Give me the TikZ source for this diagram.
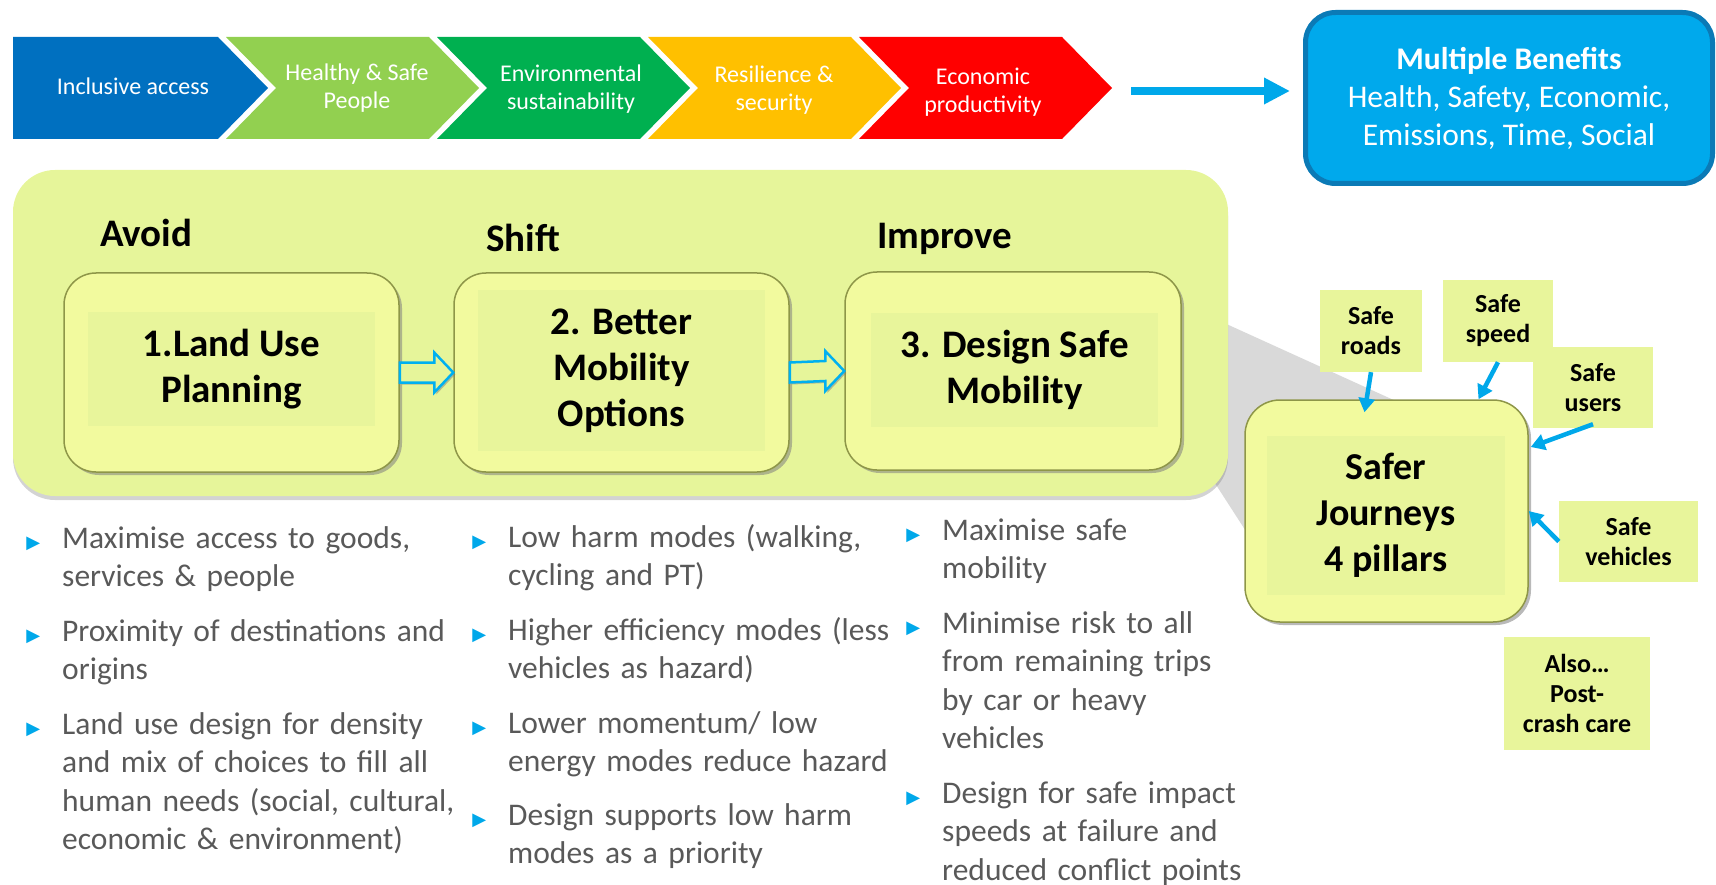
\documentclass[tikz,border=0pt]{standalone}
\usepackage{fontspec}
\setmainfont{Carlito}
\newfontfamily\symfont{DejaVu Sans}
\usetikzlibrary{calc,shadows,arrows.meta}

\definecolor{chevblue}{HTML}{0070C0}
\definecolor{chevlime}{HTML}{92D050}
\definecolor{chevgreen}{HTML}{00B050}
\definecolor{chevamber}{HTML}{FFC000}
\definecolor{chevred}{HTML}{FF0000}
\definecolor{benefill}{HTML}{00A9EC}
\definecolor{benedge}{HTML}{0B7AB6}
\definecolor{arrowblue}{HTML}{00A8EA}
\definecolor{hollowblue}{HTML}{00B0F0}
\definecolor{panelfill}{HTML}{E6F59A}
\definecolor{boxfill}{HTML}{F2FA9E}
\definecolor{boxinner}{HTML}{E8F59B}
\definecolor{boxedge}{HTML}{8E9648}
\definecolor{tagfill}{HTML}{E8F59B}
\definecolor{wedgegrey}{HTML}{D9D9D9}
\definecolor{txtgrey}{HTML}{595959}
\definecolor{bulblue}{HTML}{00A8EA}

\newcommand{\bul}{\makebox[0pt][r]{\textcolor{bulblue}{\symfont\fontsize{18}{18}\selectfont ▶}\hspace{22pt}}}

\tikzset{
  chevtext/.style={text=white, align=center, inner sep=0pt, font=\fontsize{24}{28}\selectfont},
  phase/.style={anchor=base west, inner sep=0pt, font=\bfseries\fontsize{39}{46}\selectfont},
  bevelbox/.style={draw=boxedge, line width=1.5pt, fill=boxfill, rounded corners=32pt, inner sep=0pt,
    drop shadow={shadow xshift=3pt, shadow yshift=-3pt, opacity=0.55}},
  boxlabel/.style={fill=boxinner, inner sep=0pt, align=center, font=\bfseries\fontsize{39}{46}\selectfont},
  tag/.style={fill=tagfill, inner sep=0pt, align=center, font=\bfseries\fontsize{26}{30}\selectfont},
  pillar/.style={draw=arrowblue, line width=4.5pt, -{Triangle[length=14pt,width=16pt]}},
  hollowarr/.style={draw=hollowblue, line width=2.5pt, fill=panelfill, line join=miter,
    drop shadow={shadow xshift=2pt, shadow yshift=-2pt, opacity=0.5}},
  bulletitem/.style={anchor=base west, inner sep=0pt, text width=#1, align=left, text=txtgrey,
    font=\fontsize{31.5}{38.5}\selectfont},
  bulletitem/.default=450pt,
}

\begin{document}
\begin{tikzpicture}[x=1pt,y=-1pt]
    \useasboundingbox (0,0) rectangle (1716,885);

    % chevron row
    \fill[chevblue] (13,37) -- (218,37) -- (268,88) -- (218,139) -- (13,139) -- cycle;
    \fill[chevlime] (226,37) -- (429,37) -- (479,88) -- (429,139) -- (226,139) -- (276,88) -- cycle;
    \fill[chevgreen] (437,37) -- (640,37) -- (690,88) -- (640,139) -- (437,139) -- (487,88) -- cycle;
    \fill[chevamber] (648,37) -- (851,37) -- (901,88) -- (851,139) -- (648,139) -- (698,88) -- cycle;
    \fill[chevred] (859,37) -- (1062,37) -- (1112,88) -- (1062,139) -- (859,139) -- (909,88) -- cycle;
    \node[chevtext] (access) at (133,86) {Inclusive access};
    \node[chevtext] (health) at (357,88) {Healthy \& Safe\\People};
    \node[chevtext] (enviro) at (571,89) {Environmental\\sustainability};
    \node[chevtext] (resil) at (774,90) {Resilience \&\\security};
    \node[chevtext] (econ) at (983,92) {Economic\\productivity};
    \coordinate (chevtip) at (1131,91);

    \node[draw=benedge, line width=5pt, fill=benefill, rounded corners=30pt, minimum width=407pt,
      minimum height=171pt, text=white, align=center, font=\fontsize{31.5}{38}\selectfont]
      (benefits) at (1509,98) {\textbf{Multiple Benefits}\\Health, Safety, Economic,\\Emissions, Time, Social};
    \draw[arrowblue, line width=8pt, -{Triangle[length=26pt,width=25pt]}, shorten >=13pt]
      (chevtip) -- (chevtip -| benefits.west);

    % avoid / shift / improve panel
    \fill[wedgegrey] (1200,312) -- (1420,412) -- (1260,553) -- (1200,460) -- cycle;
    \path[fill=panelfill, rounded corners=42pt,
      drop shadow={shadow xshift=0pt, shadow yshift=-4pt, opacity=0.35}] (13,170) rectangle (1228,496);

    \node[phase] (avoid) at (100,247) {Avoid};
    \node[phase] (shift) at (486,252) {Shift};
    \node[phase] (improve) at (877,249) {Improve};

    \node[bevelbox, minimum width=335pt, minimum height=199pt] (landuse) at (231.5,372.5) {};
    \node[boxlabel, minimum width=287pt, minimum height=114pt] (landusetxt) at (231.5,369) {1.Land Use\\Planning};
    \node[bevelbox, minimum width=335pt, minimum height=199pt] (mobility) at (621.5,372.5) {};
    \node[boxlabel, minimum width=287pt, minimum height=161pt] (mobilitytxt) at (621.5,370.5) {2. Better\\Mobility\\Options};
    \node[bevelbox, minimum width=336pt, minimum height=198pt] (design) at (1013,371) {};
    \node[boxlabel, minimum width=287pt, minimum height=114pt] (designtxt) at (1014.5,370) {3. Design Safe\\Mobility};

    \draw[hollowarr] ($(landuse.east)+(0,-10)$) -- ($(mobility.west)+(-19,-10)$) -- ($(mobility.west)+(-19,-20)$)
      -- (mobility.west) -- ($(mobility.west)+(-19,20)$) -- ($(mobility.west)+(-19,10)$) -- ($(landuse.east)+(0,10)$) -- cycle;
    \draw[hollowarr] ($(mobility.east)+(0,-10)$) -- ($(design.west)+(-19,-10)$) -- ($(design.west)+(-19,-20)$)
      -- (design.west) -- ($(design.west)+(-19,20)$) -- ($(design.west)+(-19,10)$) -- ($(mobility.east)+(0,10)$) -- cycle;

    % safer journeys
    \node[bevelbox, rounded corners=35pt, minimum width=283pt, minimum height=222pt] (journeys) at (1386.5,511) {};
    \node[boxlabel, font=\bfseries\fontsize{38}{46}\selectfont, minimum width=238pt, minimum height=159pt]
      (journeystxt) at (1386,515) {Safer\\Journeys\\4 pillars};

    \node[tag, minimum width=102pt, minimum height=82pt] (roads) at (1371,331) {Safe\\roads};
    \node[tag, minimum width=110pt, minimum height=82pt] (speed) at (1498,321) {Safe\\speed};
    \node[tag, minimum width=120pt, minimum height=81pt] (users) at (1593,387.5) {Safe\\users};
    \node[tag, minimum width=139pt, minimum height=81pt] (vehicles) at (1628.5,541.5) {Safe\\vehicles};
    \node[tag, minimum width=146pt, minimum height=113pt] (postcrash) at (1577,693.5) {Also…\\Post-\\crash care};

    \draw[pillar] (roads.south) -- ([xshift=-22pt,yshift=-13pt]journeys.north);
    \draw[pillar] (speed.south) -- ([xshift=92pt]journeys.north);
    \draw[pillar] ([yshift=4pt]users.south) -- ([xshift=2pt,yshift=64pt]journeys.east);
    \draw[pillar] (vehicles.west) -- (journeys.east);

    % bullet lists
    \node[bulletitem] (avoid1) at (62,548) {\bul Maximise access to goods,\\services \& people};
    \node[bulletitem] (avoid2) at (62,641) {\bul Proximity of destinations and\\origins};
    \node[bulletitem] (avoid3) at (62,734) {\bul Land use design for density\\and mix of choices to fill all\\human needs (social, cultural,\\economic \& environment)};
    \node[bulletitem] (shift1) at (508,547) {\bul Low harm modes (walking,\\cycling and PT)};
    \node[bulletitem] (shift2) at (508,640) {\bul Higher efficiency modes (less\\vehicles as hazard)};
    \node[bulletitem] (shift3) at (508,733) {\bul Lower momentum/ low\\energy modes reduce hazard};
    \node[bulletitem] (shift4) at (508,825) {\bul Design supports low harm\\modes as a priority};
    \node[bulletitem] (improve1) at (942,540) {\bul Maximise safe\\mobility};
    \node[bulletitem] (improve2) at (942,633) {\bul Minimise risk to all\\from remaining trips\\by car or heavy\\vehicles};
    \node[bulletitem] (improve3) at (942,803) {\bul Design for safe impact\\speeds at failure and\\reduced conflict points};
\end{tikzpicture}
\end{document}
